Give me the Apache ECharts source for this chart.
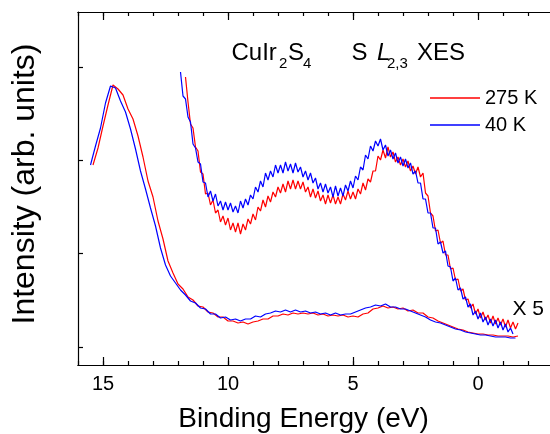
<!DOCTYPE html>
<html>
<head>
<meta charset="utf-8">
<script src="https://cdn.jsdelivr.net/npm/echarts@6/dist/echarts.min.js"></script>
<style>
  html, body { margin: 0; padding: 0; background: #fff; }
  #chart { width: 550px; height: 434px; }
</style>
</head>
<body>
<div id="chart"></div>
<script>
// binding energy grids (eV), sampled at a fixed step from the start value
const mainStep = 0.2;
const x5Step = 0.1;
const blueMainStart = 15.5;
const redMainStart = 15.4;
const blueX5Start = 11.9;
const redX5Start = 11.7;

// intensity (arb. units), 0 = lowest y tick
const blueMain = [182, 201, 219, 244, 261, 259, 246, 235, 218, 198,
  176, 158, 139, 121, 99, 82, 71, 64, 57, 52,
  46, 44, 39, 38, 33, 33, 29, 30, 27, 28,
  26, 28, 28, 31, 30, 33, 34, 36, 35, 37,
  35, 37, 35, 36, 34, 35, 33, 34, 32, 34,
  32, 33, 33, 35, 37, 39, 40, 42, 41, 43,
  40, 40, 38, 38, 36, 34, 32, 30, 27, 25,
  24, 22, 20, 18, 17, 15, 14, 13, 12, 12,
  11, 10, 10, 10, 9, 9];
const redMain = [182, 199, 221, 242, 262, 258, 252, 238, 228, 211,
  190, 166, 150, 126, 108, 86, 74, 63, 58, 50,
  47, 41, 40, 35, 34, 30, 30, 26, 26, 24,
  25, 23, 25, 26, 28, 28, 31, 31, 33, 32,
  34, 33, 34, 33, 34, 32, 33, 31, 32, 31,
  32, 30, 31, 30, 33, 34, 38, 39, 41, 39,
  40, 38, 39, 36, 37, 34, 34, 30, 29, 26,
  24, 22, 20, 18, 17, 15, 14, 13, 13, 12,
  12, 11, 11, 11, 10, 11];
// "X 5" magnified spectra
const blueX5 = [275, 251, 248, 230, 225, 203, 199, 185, 183, 165,
  164, 150, 156, 146, 153, 141, 146, 137, 145, 137,
  144, 135, 141, 134, 146, 139, 148, 142, 152, 148,
  160, 155, 166, 160, 174, 167, 176, 170, 182, 174,
  182, 174, 185, 176, 183, 174, 184, 175, 180, 170,
  176, 167, 174, 164, 169, 158, 164, 155, 163, 154,
  160, 150, 161, 151, 159, 151, 162, 156, 166, 159,
  171, 167, 180, 177, 192, 188, 201, 196, 206, 201,
  208, 197, 202, 191, 197, 188, 194, 184, 190, 181,
  188, 179, 184, 173, 176, 164, 164, 148, 148, 134,
  134, 119, 119, 103, 105, 94, 96, 81, 80, 66,
  69, 57, 59, 48, 50, 40, 43, 32, 36, 28,
  34, 25, 30, 22, 28, 21, 27, 19, 25, 17,
  23, 15, 19, 13];
const redX5 = [270, 245, 223, 219, 200, 196, 175, 173, 153, 154,
  142, 147, 134, 137, 125, 131, 122, 129, 117, 124,
  115, 124, 113, 123, 117, 128, 123, 133, 127, 140,
  136, 147, 140, 151, 145, 155, 150, 160, 154, 163,
  155, 166, 158, 167, 158, 166, 158, 165, 155, 160,
  150, 158, 149, 156, 146, 152, 143, 152, 144, 152,
  143, 150, 143, 153, 147, 156, 148, 155, 148, 158,
  153, 164, 157, 168, 165, 176, 176, 191, 187, 197,
  189, 200, 190, 195, 185, 190, 182, 188, 180, 186,
  176, 181, 173, 180, 170, 174, 154, 151, 134, 131,
  116, 117, 104, 106, 92, 92, 78, 79, 67, 68,
  56, 58, 47, 48, 39, 43, 33, 38, 29, 35,
  27, 32, 24, 31, 23, 29, 22, 28, 20, 27,
  19, 25, 18, 24];

const xLabels = [0, 5, 10, 15];
const xMajorTicks = [-5, 0, 5, 10, 15];
const yTicks = [0, 93.3, 186.7, 280];

function pairs(start, step, vals) {
  return vals.map((v, i) => [+(start - i * step).toFixed(2), v]);
}

const font = '"Liberation Sans", Arial, Helvetica, sans-serif';
const RED = '#ff0000';
const BLUE = '#0000ff';

const chart = echarts.init(document.getElementById('chart'));

function xAx(pos, major) {
  return {
    type: 'value',
    position: pos,
    inverse: true,
    min: -5,
    max: 16,
    interval: 1,
    axisLine: { show: true, onZero: false, lineStyle: { color: '#000', width: 1.2 } },
    axisTick: major
      ? { show: true, inside: true, length: 8, customValues: xMajorTicks, lineStyle: { color: '#000', width: 1.2 } }
      : { show: true, inside: true, length: 4, lineStyle: { color: '#000', width: 1.2 } },
    axisLabel: (major && pos === 'bottom')
      ? { show: true, customValues: xLabels, color: '#000', fontSize: 20, fontFamily: font, margin: 9 }
      : { show: false },
    splitLine: { show: false }
  };
}

function line(name, data, color) {
  return {
    name: name,
    type: 'line',
    data: data,
    showSymbol: false,
    symbol: 'none',
    color: color,
    lineStyle: { color: color, width: 1.2 },
    emphasis: { disabled: true },
    animation: false
  };
}

function txt(text, x, y, size, extra) {
  return {
    type: 'text',
    x: x,
    y: y,
    style: Object.assign({
      text: text,
      fontSize: size,
      fontFamily: font,
      fill: '#000',
      align: 'left',
      verticalAlign: 'middle'
    }, extra || {})
  };
}

chart.setOption({
  backgroundColor: '#fff',
  animation: false,
  grid: { left: 78, top: 12, width: 525, height: 353, containLabel: false, outerBoundsMode: 'none' },
  xAxis: [xAx('bottom', false), xAx('bottom', true), xAx('top', false), xAx('top', true)],
  yAxis: {
    type: 'value',
    position: 'left',
    min: -18,
    max: 335,
    axisLine: { show: true, onZero: false, lineStyle: { color: '#000', width: 1.2 } },
    axisTick: { show: true, inside: true, length: 5, customValues: yTicks, lineStyle: { color: '#000', width: 1.2 } },
    axisLabel: { show: false },
    splitLine: { show: false }
  },
  legend: {
    data: ['275 K', '40 K'],
    orient: 'vertical',
    left: 425,
    top: 83,
    icon: 'rect',
    itemWidth: 50,
    itemHeight: 1.5,
    itemGap: 7,
    textStyle: { color: '#000', fontSize: 20, fontFamily: font, lineHeight: 20 }
  },
  series: [
    line('275 K', pairs(redMainStart, mainStep, redMain), RED),
    line('40 K', pairs(blueMainStart, mainStep, blueMain), BLUE),
    line('275 K', pairs(redX5Start, x5Step, redX5), RED),
    line('40 K', pairs(blueX5Start, x5Step, blueX5), BLUE)
  ],
  graphic: [
    txt('CuIr', 231.5, 53.5, 24),
    txt('2', 279, 63.5, 15),
    txt('S', 288, 53.5, 24),
    txt('4', 303, 63.5, 15),
    txt('S', 351.5, 53.5, 24),
    txt('L', 377, 53.5, 24, { fontStyle: 'italic' }),
    txt('2,3', 387, 63.5, 15),
    txt('XES', 417, 53.5, 24),
    txt('X 5', 512.5, 309, 21),
    txt('Binding Energy (eV)', 303.5, 419.5, 28, { align: 'center' }),
    {
      type: 'text',
      x: 25,
      y: 184,
      rotation: Math.PI / 2,
      style: {
        text: 'Intensity (arb. units)',
        fontSize: 32,
        fontFamily: font,
        fill: '#000',
        align: 'center',
        verticalAlign: 'middle'
      }
    }
  ]
});
</script>
</body>
</html>
